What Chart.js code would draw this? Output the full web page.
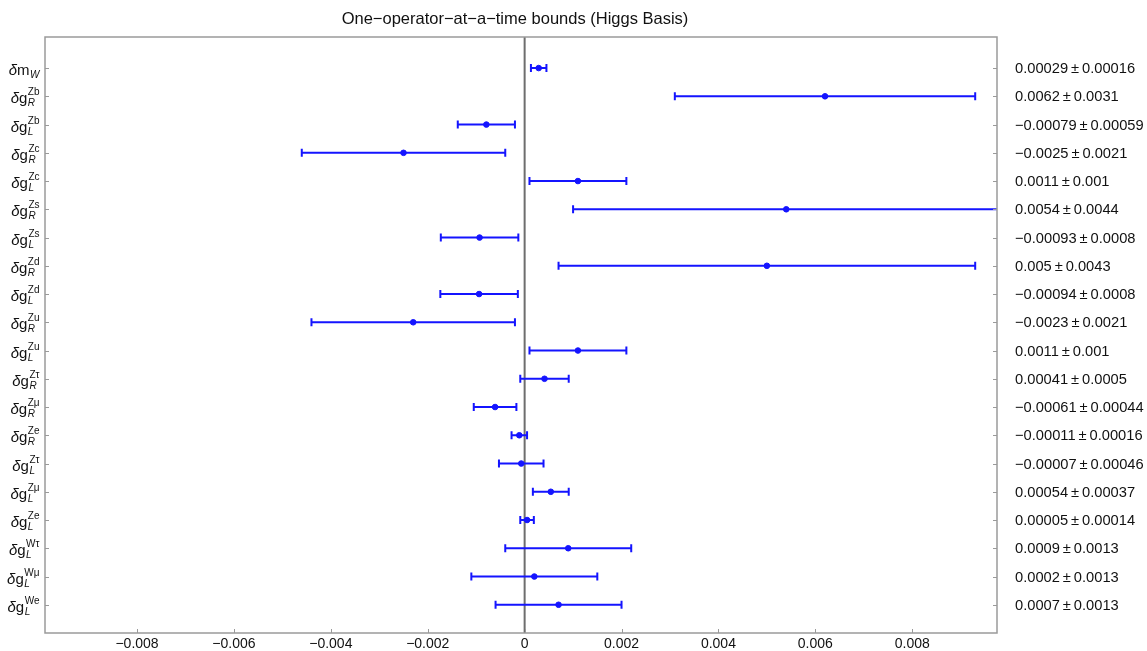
<!DOCTYPE html>
<html>
<head>
<meta charset="utf-8">
<title>One-operator-at-a-time bounds (Higgs Basis)</title>
<script src="https://cdn.jsdelivr.net/npm/chart.js@4.4.1/dist/chart.umd.min.js"></script>
<style>
  html, body { margin: 0; padding: 0; background: #fff; }
  #wrap { width: 1147px; height: 651px; position: relative; }
</style>
</head>
<body>
<div id="wrap"><canvas id="boundsChart"></canvas></div>
<script>
// Operators, top to bottom: delta <base>_<sub>^<sup>
const opBase = ['m', 'g', 'g', 'g', 'g', 'g', 'g', 'g', 'g', 'g', 'g', 'g', 'g', 'g', 'g', 'g', 'g', 'g', 'g', 'g'];
const opSub = ['W', 'R', 'L', 'R', 'L', 'R', 'L', 'R', 'L', 'R', 'L', 'R', 'R', 'R', 'L', 'L', 'L', 'L', 'L', 'L'];
const opSup = ['', 'Zb', 'Zb', 'Zc', 'Zc', 'Zs', 'Zs', 'Zd', 'Zd', 'Zu', 'Zu', 'Zτ', 'Zμ', 'Ze', 'Zτ', 'Zμ', 'Ze', 'Wτ', 'Wμ', 'We'];

// Best-fit values and 1-sigma errors
const centralValues = [0.00029, 0.0062, -0.00079, -0.0025, 0.0011, 0.0054, -0.00093, 0.005, -0.00094, -0.0023,
  0.0011, 0.00041, -0.00061, -0.00011, -0.00007, 0.00054, 0.00005, 0.0009, 0.0002, 0.0007];
const errorValues = [0.00016, 0.0031, 0.00059, 0.0021, 0.001, 0.0044, 0.0008, 0.0043, 0.0008, 0.0021,
  0.001, 0.0005, 0.00044, 0.00016, 0.00046, 0.00037, 0.00014, 0.0013, 0.0013, 0.0013];

const xTicks = [-0.008, -0.006, -0.004, -0.002, 0, 0.002, 0.004, 0.006, 0.008];

const BLUE = '#1414ff';
const FRAME = '#9a9a9a';
const FONT = '"Liberation Sans", Arial, sans-serif';

const minus = s => String(s).replace('-', '\u2212');

// frame, inward ticks, zero line, error bars and row labels
const boundsPlugin = {
  id: 'bounds',
  beforeDatasetsDraw(chart) {
    const { ctx, chartArea: a, scales: { x, y } } = chart;
    ctx.save();

    // zero line
    const x0 = x.getPixelForValue(0);
    ctx.strokeStyle = '#6e6e6e';
    ctx.lineWidth = 2;
    ctx.beginPath();
    ctx.moveTo(x0, a.top);
    ctx.lineTo(x0, a.bottom);
    ctx.stroke();

    // error bars, clipped to the plot area
    ctx.beginPath();
    ctx.rect(a.left, a.top, a.right - a.left, a.bottom - a.top);
    ctx.clip();
    ctx.strokeStyle = BLUE;
    ctx.lineWidth = 2;
    centralValues.forEach((v, i) => {
      const py = y.getPixelForValue(i);
      const lo = x.getPixelForValue(v - errorValues[i]);
      const hi = x.getPixelForValue(v + errorValues[i]);
      ctx.beginPath();
      ctx.moveTo(lo, py);
      ctx.lineTo(hi, py);
      ctx.moveTo(lo, py - 4);
      ctx.lineTo(lo, py + 4);
      ctx.moveTo(hi, py - 4);
      ctx.lineTo(hi, py + 4);
      ctx.stroke();
    });
    ctx.restore();
  },
  afterDraw(chart) {
    const { ctx, chartArea: a, scales: { x, y } } = chart;
    ctx.save();

    // frame
    ctx.strokeStyle = FRAME;
    ctx.lineWidth = 1.5;
    ctx.strokeRect(a.left, a.top, a.right - a.left, a.bottom - a.top);

    // inward tick marks
    ctx.lineWidth = 1;
    ctx.beginPath();
    xTicks.forEach(t => {
      const px = Math.round(x.getPixelForValue(t)) + 0.5;
      ctx.moveTo(px, a.bottom);
      ctx.lineTo(px, a.bottom - 4);
    });
    centralValues.forEach((v, i) => {
      const py = Math.round(y.getPixelForValue(i)) + 0.5;
      ctx.moveTo(a.left, py);
      ctx.lineTo(a.left + 4, py);
      ctx.moveTo(a.right, py);
      ctx.lineTo(a.right - 4, py);
    });
    ctx.stroke();

    // title
    ctx.fillStyle = '#111';
    ctx.font = '16.5px ' + FONT;
    ctx.textAlign = 'center';
    ctx.textBaseline = 'middle';
    ctx.fillText('One\u2212operator\u2212at\u2212a\u2212time bounds (Higgs Basis)', 515, 19);

    // right labels: value ± error
    ctx.font = '14.7px ' + FONT;
    ctx.textAlign = 'left';
    centralValues.forEach((v, i) => {
      const py = y.getPixelForValue(i);
      ctx.fillText(minus(v) + '\u2009\u00b1\u2009' + errorValues[i], a.right + 18, py + 1);
    });

    // left labels: δ g with stacked sup/sub scripts, right aligned
    ctx.textBaseline = 'alphabetic';
    const big = '15px ' + FONT;
    const bigIt = 'italic 15px ' + FONT;
    const small = '10px ' + FONT;
    const smallIt = 'italic 10px ' + FONT;
    opBase.forEach((b, i) => {
      const base = y.getPixelForValue(i) + 7;
      ctx.font = bigIt;
      const wd = ctx.measureText('\u03b4').width;
      ctx.font = big;
      const wb = ctx.measureText(b).width;
      ctx.font = small;
      const wsup = ctx.measureText(opSup[i]).width;
      ctx.font = smallIt;
      const wsub = ctx.measureText(opSub[i]).width;
      let px = a.left - 5 - (wd + wb + Math.max(wsup, wsub) + 1);
      ctx.font = bigIt;
      ctx.fillText('\u03b4', px, base);
      px += wd;
      ctx.font = big;
      ctx.fillText(b, px, base);
      px += wb + 0.5;
      ctx.font = small;
      ctx.fillText(opSup[i], px, base - 8);
      ctx.font = smallIt;
      ctx.fillText(opSub[i], px, base + 3);
    });
    ctx.restore();
  }
};

new Chart(document.getElementById('boundsChart'), {
  type: 'scatter',
  data: {
    datasets: [{
      data: centralValues.map((v, i) => ({ x: v, y: i })),
      backgroundColor: BLUE,
      borderColor: BLUE,
      pointRadius: 2.8,
      pointHoverRadius: 2.8
    }]
  },
  options: {
    responsive: true,
    maintainAspectRatio: false,
    animation: false,
    layout: { padding: { left: 45, right: 150, top: 37, bottom: 0 } },
    plugins: { legend: { display: false }, tooltip: { enabled: false }, title: { display: false } },
    scales: {
      x: {
        type: 'linear',
        min: -0.0099,
        max: 0.00975,
        afterBuildTicks: scale => { scale.ticks = xTicks.map(v => ({ value: v })); },
        afterFit: scale => { scale.height = 18; },
        grid: { display: false, drawTicks: false },
        border: { display: false },
        ticks: {
          padding: 3,
          maxRotation: 0,
          autoSkip: false,
          color: '#111',
          font: { family: FONT, size: 14 },
          callback: v => (v === 0 ? '0' : minus(v))
        }
      },
      y: {
        type: 'linear',
        display: false,
        reverse: true,
        min: -1.1,
        max: 20
      }
    }
  },
  plugins: [boundsPlugin]
});
</script>
</body>
</html>
